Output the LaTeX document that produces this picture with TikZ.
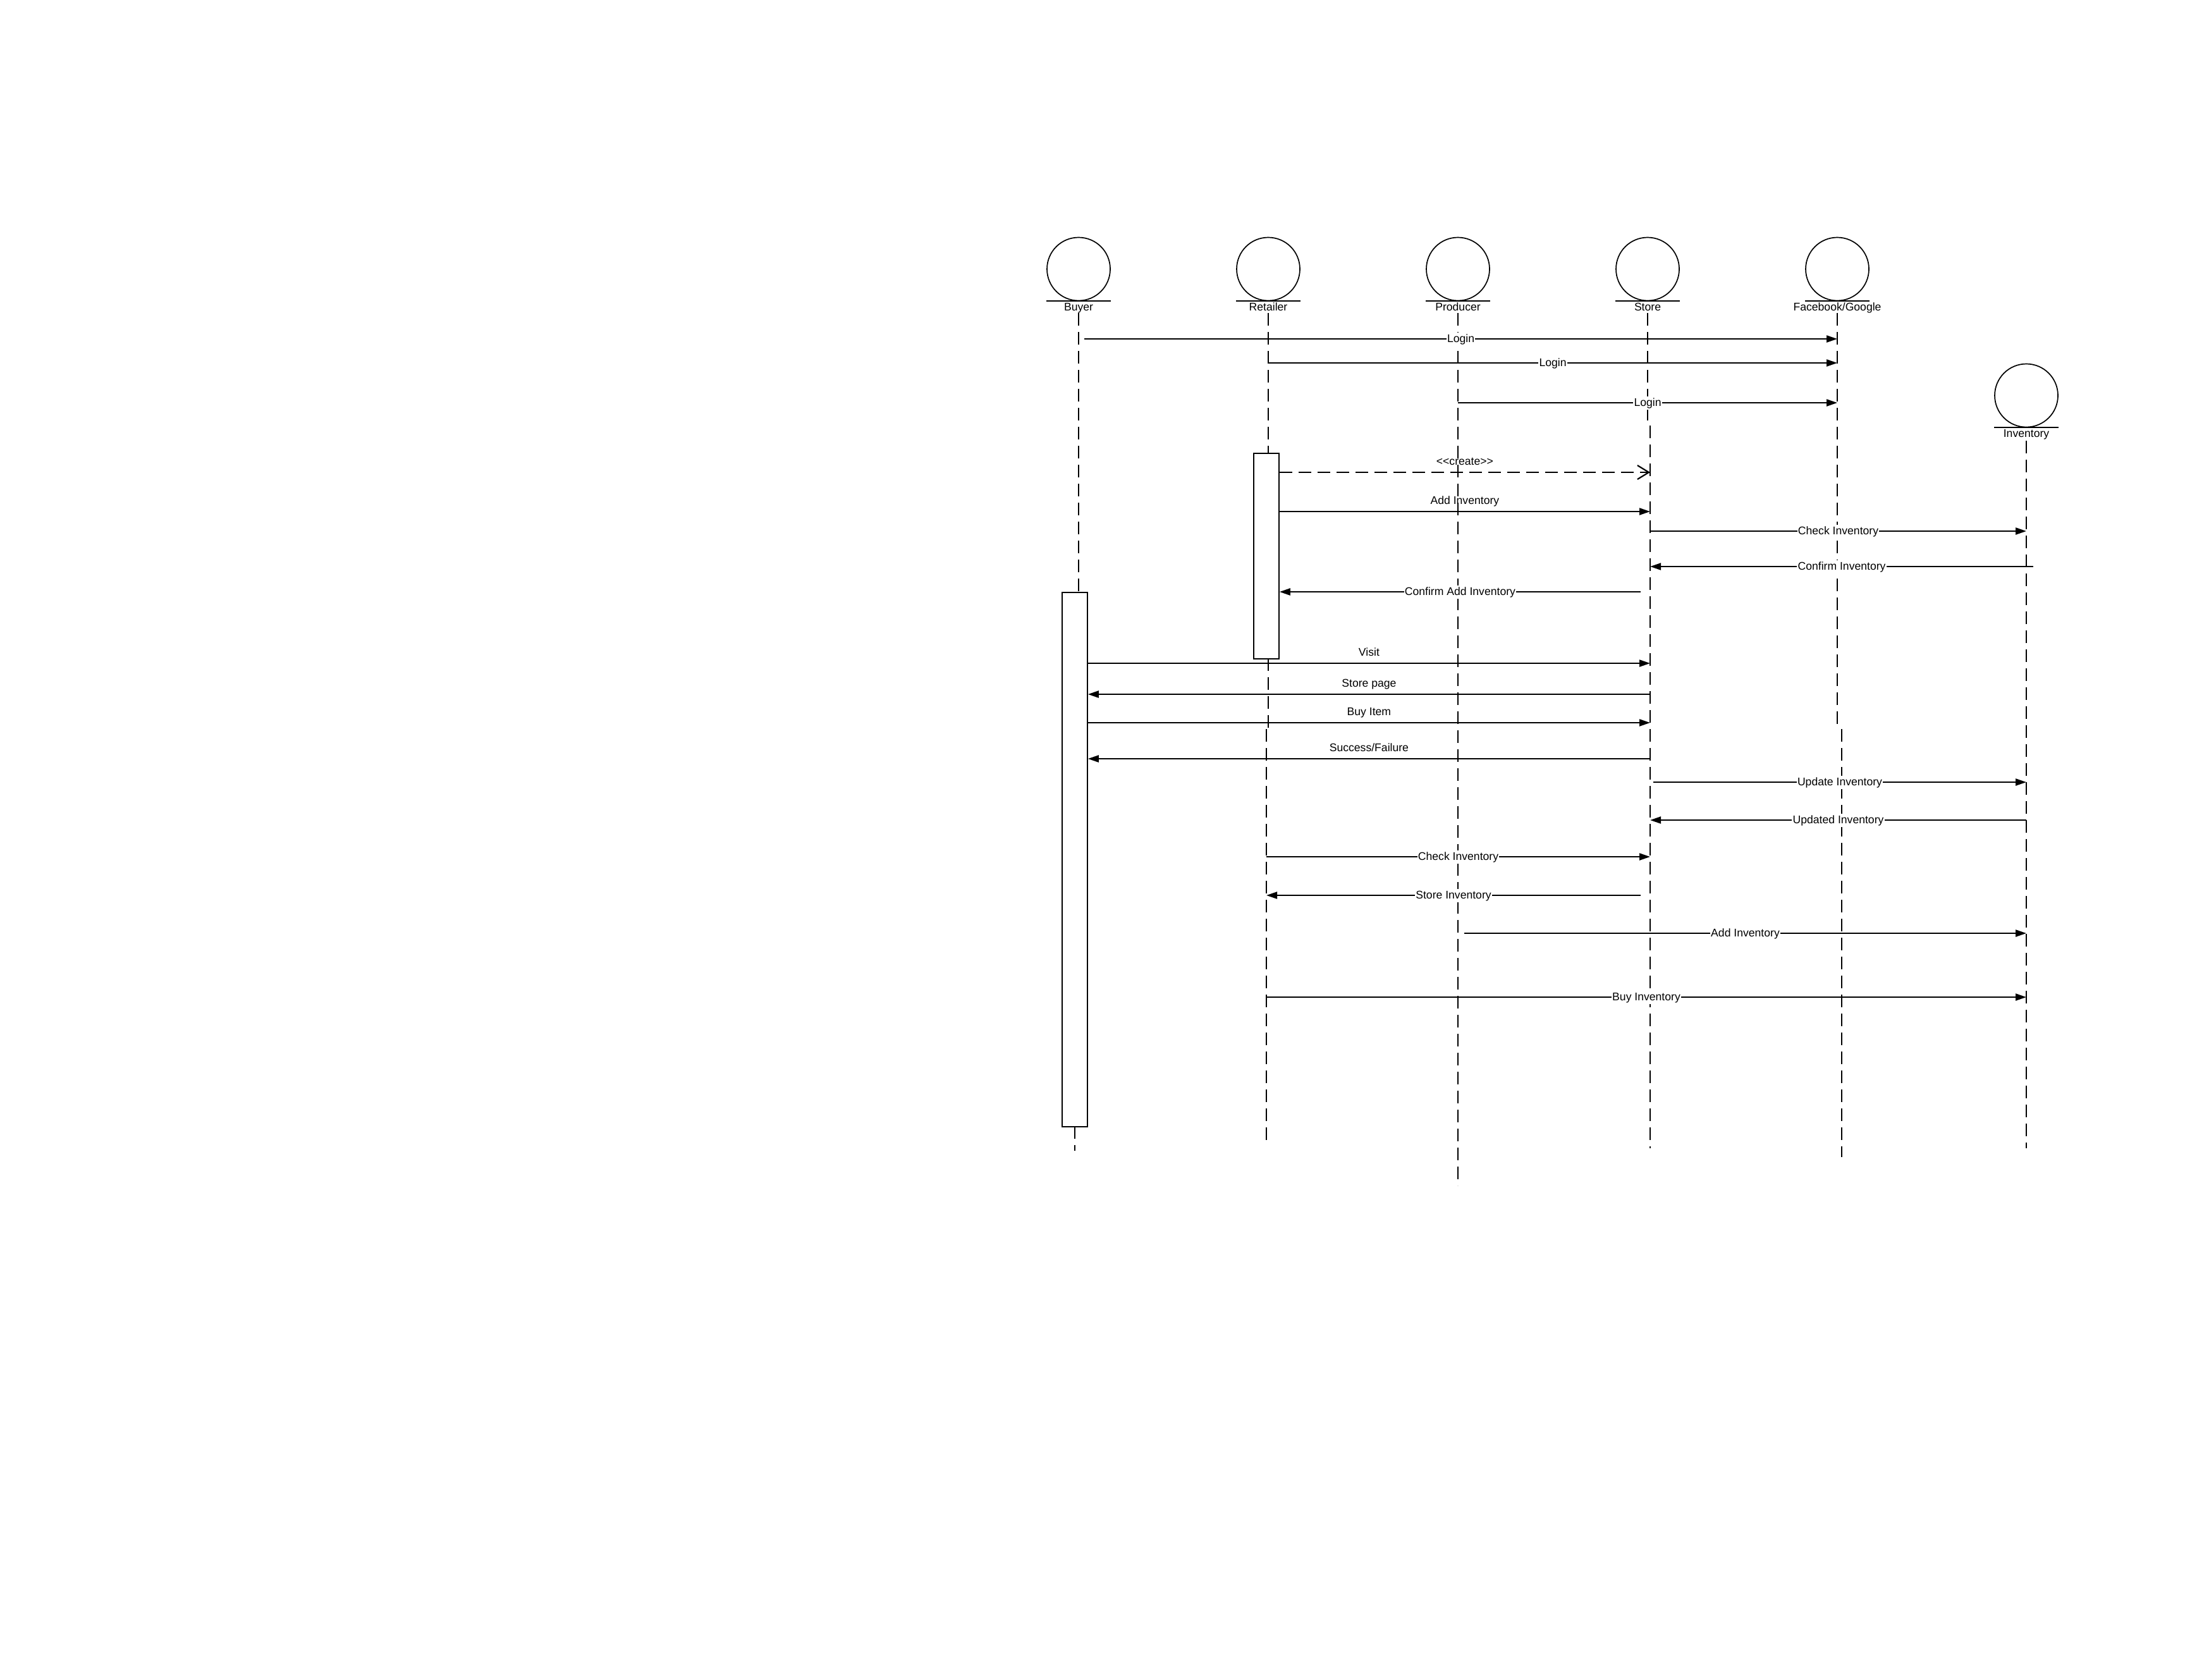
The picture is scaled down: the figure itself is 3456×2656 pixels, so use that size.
\documentclass[tikz,border=0pt]{standalone}
\usepackage{fontspec}
\setmainfont{Liberation Sans}
\usetikzlibrary{arrows.meta,calc}
\begin{document}
\begin{tikzpicture}[x=0.5pt,y=-0.5pt,
  font=\fontsize{8.8pt}{10pt}\selectfont,
  actor/.style={draw, circle, line width=0.85pt, minimum size=50pt, inner sep=0pt},
  actlbl/.style={inner sep=0pt, anchor=base},
  uline/.style={line width=0.9pt},
  lifeline/.style={line width=1pt, dash pattern=on 10pt off 5pt},
  actbox/.style={draw, fill=white, line width=0.8pt, minimum width=20pt, inner sep=0pt, anchor=north},
  msg/.style={line width=1.1pt, -{Triangle[length=8.5pt,width=5.5pt]}},
  createmsg/.style={line width=1.1pt, dash pattern=on 10pt off 5pt, -{Straight Barb[length=9pt,width=11pt]}},
  onlbl/.style={fill=white, inner sep=0.6pt, text height=0.72em, text depth=0.21em},
  abovelbl/.style={inner sep=0pt, anchor=base, yshift=6pt}
]
\useasboundingbox (0,0) rectangle (3456,2656);

% actors
\node[actor] (buyer) at (1706,425.5) {};
\node[actor] (retailer) at (2006,425.5) {};
\node[actor] (producer) at (2306,425.5) {};
\node[actor] (store) at (2606,425.5) {};
\node[actor] (fb) at (2906,425.5) {};
\node[actor] (inventory) at (3205,625.5) {};
\foreach \a in {buyer,retailer,producer,store,fb,inventory}
  \draw[uline] (\a.west |- \a.south) -- (\a.east |- \a.south);
\node[actlbl] (buyerlbl) at (1706,491) {Buyer};
\node[actlbl] (retailerlbl) at (2006,491) {Retailer};
\node[actlbl] (producerlbl) at (2306,491) {Producer};
\node[actlbl] (storelbl) at (2606,491) {Store};
\node[actlbl] (fblbl) at (2906,491) {Facebook/Google};
\node[actlbl] (inventorylbl) at (3205,691) {Inventory};

% lifeline break points
\coordinate (retL) at (2003,1153);
\coordinate (storeL) at (2610,673);
\coordinate (fbL) at (2913,1153);

% activation box anchors
\coordinate (buyboxtop) at (1700,936);
\coordinate (retboxtop) at (2003,716);

% lifelines
\draw[lifeline] (buyer |- 0,495) -- (buyer |- 0,936);
\draw[lifeline] (1700,1781) -- (1700,1820);
\draw[lifeline] (retailer |- 0,495) -- (retailer |- 0,716);
\draw[lifeline] (retailer |- 0,1041) -- (retailer |- retL);
\draw[lifeline] (retL) -- (retL |- 0,1811);
\draw[lifeline] (producer |- 0,495) -- (producer |- 0,1875);
\draw[lifeline] (store |- 0,495) -- (store |- storeL);
\draw[lifeline] (storeL) -- (storeL |- 0,1816);
\draw[lifeline] (fb |- 0,495) -- (fb |- fbL);
\draw[lifeline] (fbL) -- (fbL |- 0,1830);
\draw[lifeline] (inventory |- 0,697) -- (inventory |- 0,1816);

% activation boxes
\node[actbox, minimum height=422.5pt] (buybox) at (buyboxtop) {};
\node[actbox, minimum height=162.5pt] (retbox) at (retboxtop) {};

% messages
\draw[msg] ($(buyer |- 0,536)+(9,0)$) -- (fb |- 0,536) node[onlbl,midway] {Login};
\draw[msg] (retailer |- 0,574) -- (fb |- 0,574) node[onlbl,midway] {Login};
\draw[msg] (producer |- 0,637) -- (fb |- 0,637) node[onlbl,midway] {Login};
\draw[createmsg] (retbox.east |- 0,747) -- (storeL |- 0,747) node[abovelbl,midway] {{<}{<}create{>}{>}};
\draw[msg] (retbox.east |- 0,809) -- (storeL |- 0,809) node[abovelbl,midway] {Add Inventory};
\draw[msg] (storeL |- 0,840) -- (inventory |- 0,840) node[onlbl,midway] {Check Inventory};
\draw[msg] ($(inventory |- 0,896)+(11,0)$) -- (storeL |- 0,896) node[onlbl,midway] {Confirm Inventory};
\draw[msg] ($(storeL |- 0,936)+(-15,0)$) -- (retbox.east |- 0,936) node[onlbl,midway] {Confirm Add Inventory};
\draw[msg] (buybox.east |- 0,1049) -- (storeL |- 0,1049) node[abovelbl,midway] {Visit};
\draw[msg] (storeL |- 0,1098) -- (buybox.east |- 0,1098) node[abovelbl,midway] {Store page};
\draw[msg] (buybox.east |- 0,1143) -- (storeL |- 0,1143) node[abovelbl,midway] {Buy Item};
\draw[msg] (storeL |- 0,1200) -- (buybox.east |- 0,1200) node[abovelbl,midway] {Success/Failure};
\draw[msg] ($(storeL |- 0,1237)+(5,0)$) -- (inventory |- 0,1237) node[onlbl,midway] {Update Inventory};
\draw[msg] (inventory |- 0,1297) -- (storeL |- 0,1297) node[onlbl,midway] {Updated Inventory};
\draw[msg] (retL |- 0,1355) -- (storeL |- 0,1355) node[onlbl,midway] {Check Inventory};
\draw[msg] ($(storeL |- 0,1416)+(-15,0)$) -- (retL |- 0,1416) node[onlbl,midway] {Store Inventory};
\draw[msg] ($(producer |- 0,1476)+(10,0)$) -- (inventory |- 0,1476) node[onlbl,midway] {Add Inventory};
\draw[msg] (retL |- 0,1577) -- (inventory |- 0,1577) node[onlbl,midway] {Buy Inventory};
\end{tikzpicture}
\end{document}
